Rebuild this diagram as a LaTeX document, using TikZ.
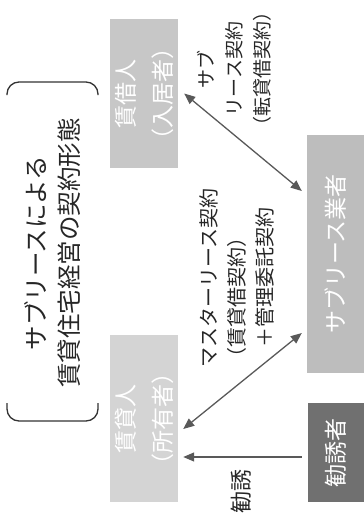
\documentclass[tikz,border=0pt]{standalone}
\usepackage{fontspec}
\setmainfont{Noto Sans CJK JP}
\usetikzlibrary{arrows.meta}
\begin{document}
\begin{tikzpicture}[x=1pt,y=-1pt,
	party/.style={rotate=90,fill=#1,text=white,align=center,inner sep=0pt,font=\fontsize{23}{37}\selectfont},
	contract/.style={rotate=90,text=black!85,font=\fontsize{20}{28}\selectfont},
	deal/.style={draw=black!65,line width=1.3pt,>={Triangle[length=11pt,width=9pt]}},
	bracket/.style={draw=black!80,line width=1.3pt,rounded corners=12pt}]
		\useasboundingbox (0,0) rectangle (364,531);
		% title between the two brackets
		\node[rotate=90,align=center,text=black!85,font=\fontsize{24.5}{33}\selectfont] (title) at (53,253) {サブリースによる\\賃貸住宅経営の契約形態};
		\draw[bracket] (7,95) -- (7,82) -- (98,82) -- (98,95);
		\draw[bracket] (7,403) -- (7,421) -- (98,421) -- (98,403);
		% the four parties
		\node[party=black!22,minimum width=149pt,minimum height=68pt] (tenant) at (144,93.5) {賃借人\\（入居者）};
		\node[party=black!17,minimum width=167pt,minimum height=68pt] (owner) at (144,418.5) {賃貸人\\（所有者）};
		\node[party=black!26,minimum width=238pt,minimum height=57pt] (sublessor) at (335.5,254) {サブリース業者};
		\node[party=black!56,minimum width=99pt,minimum height=56pt] (agent) at (336,452.5) {勧誘者};
		% contracts
		\draw[deal,<->] ([xshift=6pt]tenant.south) -- ([xshift=-5pt,yshift=63pt]sublessor.north);
		\draw[deal,<->] ([xshift=-5pt,yshift=-79pt]sublessor.north) -- ([xshift=5pt,yshift=-10.5pt]owner.south);
		\draw[deal,->] ([xshift=-6pt,yshift=-4.5pt]agent.north) -- ([xshift=5pt,yshift=-38.5pt]owner.south);
		\node[contract,align=center,font=\fontsize{19}{28}\selectfont] (sublease) at (234,69) {サブ\\リース契約\\（転貸借契約）};
		\node[contract,align=left] (master) at (237,278) {マスターリース契約\\（賃貸借契約）\\　＋管理委託契約};
		\node[contract,font=\fontsize{22}{28}\selectfont] (invite) at (241,491) {勧誘};
\end{tikzpicture}
\end{document}
